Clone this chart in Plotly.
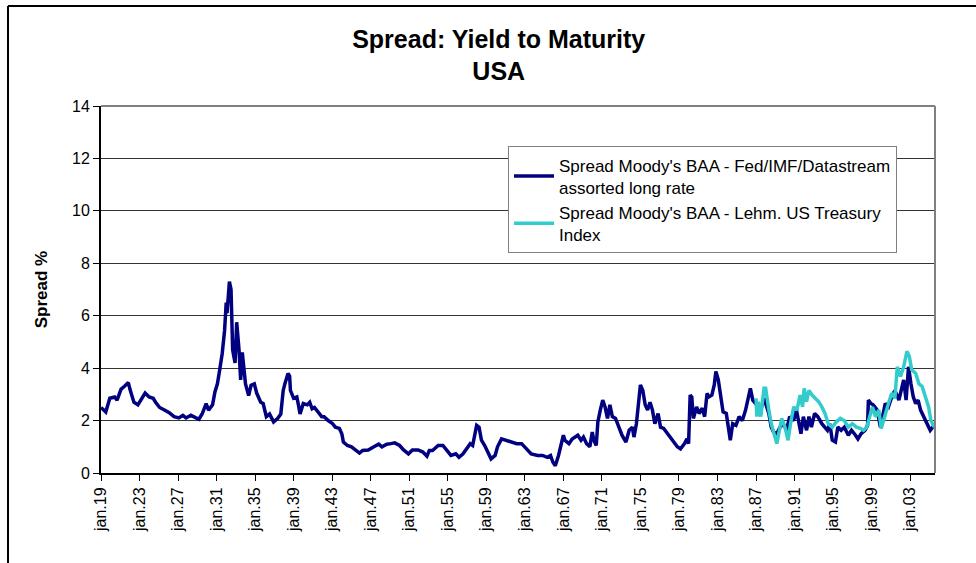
import pandas as pd
import plotly.graph_objects as go

# decimal years
fed_years = [
    1919.0, 1919.5, 1919.9, 1920.4, 1920.7, 1921.1, 1921.4, 1921.8, 1922.0, 1922.4,
    1922.8, 1923.2, 1923.6, 1924.0, 1924.4, 1924.7, 1925.1, 1925.6, 1926.1, 1926.6,
    1927.1, 1927.5, 1927.8, 1928.3, 1928.7, 1929.2, 1929.5, 1929.9, 1930.2, 1930.6,
    1930.8, 1931.1, 1931.3, 1931.6, 1931.8, 1932.0, 1932.1, 1932.3, 1932.5, 1932.7,
    1932.9, 1933.1, 1933.3, 1933.5, 1933.7, 1934.0, 1934.3, 1934.6, 1934.9, 1935.2,
    1935.6, 1935.8, 1936.2, 1936.5, 1936.9, 1937.3, 1937.7, 1937.9, 1938.1, 1938.4,
    1938.6, 1938.7, 1939.0, 1939.3, 1939.5, 1939.7, 1940.0, 1940.4, 1940.65, 1940.9,
    1941.2, 1941.5, 1941.9, 1942.2, 1942.6, 1943.0, 1943.3, 1943.75, 1944.0, 1944.2,
    1944.6, 1945.0, 1945.4, 1945.8, 1946.2, 1946.75, 1947.3, 1947.8, 1948.2, 1948.65,
    1949.1, 1949.5, 1950.0, 1950.4, 1950.9, 1951.3, 1951.9, 1952.4, 1952.8, 1953.1,
    1953.4, 1954.0, 1954.5, 1954.9, 1955.35, 1955.8, 1956.2, 1956.6, 1956.9, 1957.3,
    1957.6, 1958.0, 1958.25, 1958.5, 1958.8, 1959.2, 1959.5, 1959.9, 1960.2, 1960.6,
    1961.1, 1961.6, 1962.2, 1962.7, 1963.2, 1963.7, 1964.3, 1964.8, 1965.3, 1965.7,
    1965.9, 1966.2, 1966.5, 1966.8, 1967.0, 1967.2, 1967.6, 1967.95, 1968.5, 1968.85,
    1969.1, 1969.4, 1969.75, 1970.0, 1970.2, 1970.4, 1970.6, 1970.8, 1971.1, 1971.35,
    1971.6, 1971.85, 1972.1, 1972.45, 1972.8, 1973.1, 1973.5, 1973.8, 1974.2, 1974.35,
    1974.6, 1974.8, 1975.0, 1975.25, 1975.5, 1975.75, 1976.0, 1976.25, 1976.5, 1976.85,
    1977.1, 1977.45, 1977.8, 1978.3, 1978.8, 1979.2, 1979.55, 1979.8, 1980.0, 1980.2,
    1980.35, 1980.5, 1980.8, 1981.1, 1981.45, 1981.7, 1981.9, 1982.1, 1982.4, 1982.65,
    1982.8, 1983.1, 1983.35, 1983.6, 1983.9, 1984.15, 1984.3, 1984.55, 1984.9, 1985.25,
    1985.6, 1985.9, 1986.2, 1986.45, 1986.7, 1987.0, 1987.25, 1987.5, 1987.8, 1988.0,
    1988.3, 1988.6, 1988.8, 1989.2, 1989.5, 1989.85, 1990.2, 1990.5, 1990.9, 1991.15,
    1991.4, 1991.7, 1991.9, 1992.25, 1992.5, 1992.75, 1993.1, 1993.45, 1993.8, 1994.05,
    1994.4, 1994.65, 1994.9, 1995.25, 1995.5, 1995.85, 1996.2, 1996.55, 1996.9, 1997.3,
    1997.6, 1997.95, 1998.3, 1998.55, 1998.7, 1998.95, 1999.2, 1999.55, 1999.9, 2000.4,
    2000.75, 2001.1, 2001.45, 2001.8, 2002.1, 2002.35, 2002.55, 2002.8, 2003.05, 2003.3,
    2003.55, 2003.85, 2004.1, 2004.4, 2004.75, 2005.1, 2005.35, 2005.55,
]
fed_spread = [
    2.5, 2.33, 2.85, 2.9, 2.78, 3.2, 3.3, 3.45, 3.2, 2.7,
    2.6, 2.8, 3.05, 2.9, 2.85, 2.7, 2.5, 2.4, 2.3, 2.15,
    2.1, 2.2, 2.1, 2.2, 2.15, 2.05, 2.25, 2.65, 2.4, 2.6,
    3.1, 3.4, 3.95, 4.55, 5.45, 6.5, 6.1, 7.3, 7.0, 4.7,
    4.2, 5.75, 4.7, 3.55, 4.6, 3.4, 2.95, 3.35, 3.4, 3.05,
    2.7, 2.65, 2.15, 2.25, 1.95, 2.08, 2.25, 3.15, 3.4, 3.8,
    3.7, 3.15, 2.85, 2.9, 2.6, 2.25, 2.65, 2.6, 2.7, 2.45,
    2.5, 2.33, 2.15, 2.15, 2.0, 1.9, 1.75, 1.7, 1.5, 1.18,
    1.05, 1.0, 0.86, 0.76, 0.86, 0.88, 1.0, 1.1, 1.0, 1.1,
    1.12, 1.15, 1.05, 0.88, 0.73, 0.88, 0.88, 0.8, 0.64, 0.86,
    0.86, 1.05, 1.05, 0.86, 0.67, 0.73, 0.6, 0.73, 0.92, 1.12,
    1.05, 1.82, 1.75, 1.25, 1.05, 0.8, 0.54, 0.67, 1.0, 1.3,
    1.25, 1.18, 1.12, 1.12, 0.92, 0.73, 0.67, 0.67, 0.6, 0.67,
    0.41, 0.28, 0.67, 1.12, 1.44, 1.25, 1.12, 1.3, 1.44, 1.25,
    1.37, 1.12, 1.0, 1.56, 1.25, 1.05, 1.95, 2.4, 2.78, 2.52,
    2.08, 2.6, 2.15, 2.08, 1.63, 1.44, 1.18, 1.63, 1.75, 1.37,
    1.88, 2.65, 3.36, 3.15, 2.6, 2.4, 2.7, 2.4, 1.88, 2.27,
    1.75, 1.7, 1.5, 1.25, 1.0, 0.92, 1.12, 1.3, 1.12, 2.97,
    2.9, 2.08, 2.52, 2.27, 2.47, 2.15, 3.04, 2.9, 2.97, 3.36,
    3.87, 3.55, 2.97, 2.33, 2.27, 1.7, 1.25, 1.88, 1.82, 2.15,
    2.0, 2.4, 2.9, 3.23, 2.78, 2.6, 2.52, 2.4, 2.85, 2.65,
    2.27, 1.75, 1.56, 1.5, 1.75, 1.88, 1.63, 2.15, 2.0, 2.47,
    1.88, 1.5, 2.15, 1.63, 2.15, 1.75, 2.27, 2.15, 1.88, 1.75,
    1.63, 1.88, 1.25, 1.18, 1.75, 1.63, 1.75, 1.44, 1.63, 1.44,
    1.3, 1.5, 1.63, 1.82, 2.78, 2.65, 2.6, 2.4, 1.75, 2.65,
    2.52, 2.9, 3.15, 2.78, 3.15, 3.55, 2.78, 4.05, 3.4, 2.9,
    2.65, 2.78, 2.4, 2.15, 1.95, 1.63, 1.75, 1.82,
]

lehman_years = [
    1987.0, 1987.1, 1987.25, 1987.5, 1987.8, 1988.0, 1988.3, 1988.6, 1989.2, 1989.45,
    1989.7, 1990.0, 1990.3, 1990.55, 1990.9, 1991.25, 1991.6, 1991.8, 1992.0, 1992.25,
    1992.5, 1992.8, 1993.15, 1993.5, 1993.85, 1994.2, 1994.5, 1994.9, 1995.3, 1995.75,
    1996.2, 1996.6, 1997.0, 1997.4, 1997.8, 1998.15, 1998.5, 1998.8, 1999.1, 1999.4,
    1999.75, 2000.0, 2000.4, 2000.75, 2001.1, 2001.4, 2001.65, 2002.0, 2002.35, 2002.7,
    2002.95, 2003.2, 2003.55, 2003.9, 2004.25, 2004.6, 2004.95, 2005.2, 2005.4, 2005.55,
]
lehman_spread = [
    2.85, 2.15, 2.72, 2.15, 3.23, 3.23, 2.4, 1.88, 1.12, 1.63,
    2.08, 1.75, 1.25, 1.88, 2.52, 2.4, 2.97, 2.52, 3.23, 2.72,
    3.15, 2.97, 2.85, 2.72, 2.52, 2.27, 1.88, 1.75, 1.95, 2.08,
    2.0, 1.75, 1.88, 1.75, 1.7, 1.63, 1.75, 2.15, 2.52, 2.15,
    2.4, 1.7, 2.27, 2.65, 3.04, 2.85, 4.05, 3.68, 4.05, 4.64,
    4.45, 3.94, 3.8, 3.4, 3.3, 2.9, 2.52, 2.0, 1.82, 1.88,
]

tick_years = list(range(1919, 2004, 4))
tick_text = [f"jan.{y % 100:02d}" for y in tick_years]


def to_dates(years):
    out = []
    for y in years:
        yi = int(y)
        month = int(round((y - yi) * 12)) + 1
        if month > 12:
            yi, month = yi + 1, 1
        out.append(pd.Timestamp(year=yi, month=month, day=1))
    return out


fig = go.Figure()
fig.add_trace(
    go.Scatter(
        x=to_dates(fed_years),
        y=fed_spread,
        mode="lines",
        name="Spread Moody's BAA - Fed/IMF/Datastream<br>assorted long rate",
        line={"color": "#000080", "width": 3.5},
    )
)
fig.add_trace(
    go.Scatter(
        x=to_dates(lehman_years),
        y=lehman_spread,
        mode="lines",
        name="Spread Moody's BAA - Lehm. US Treasury<br>Index",
        line={"color": "#33CCCC", "width": 3.5},
    )
)

# outer chart border (top and left only are visible in the picture)
fig.add_shape(type="line", xref="paper", yref="paper", x0=-0.1115, x1=1.05, y0=1.2725, y1=1.2725,
              line={"color": "black", "width": 2})
fig.add_shape(type="line", xref="paper", yref="paper", x0=-0.1115, x1=-0.1115, y0=1.2725, y1=-0.3,
              line={"color": "black", "width": 2})
# plot-area frame, grey on top and right
fig.add_shape(type="line", xref="paper", yref="paper", x0=0, x1=1, y0=1, y1=1,
              line={"color": "#808080", "width": 2})
fig.add_shape(type="line", xref="paper", yref="paper", x0=1, x1=1, y0=0, y1=1,
              line={"color": "#808080", "width": 2})

fig.update_layout(
    width=976,
    height=563,
    margin={"l": 101, "r": 41, "t": 106, "b": 90},
    paper_bgcolor="white",
    plot_bgcolor="white",
    font={"family": "Liberation Sans, Arial, sans-serif", "color": "black"},
    title={
        "text": "<b>Spread: Yield to Maturity<br>USA</b>",
        "x": 0.511,
        "xanchor": "center",
        "y": 0.915,
        "yanchor": "top",
        "font": {"size": 25},
    },
    showlegend=True,
    legend={
        "x": 0.488,
        "y": 0.89,
        "xanchor": "left",
        "yanchor": "top",
        "bgcolor": "white",
        "bordercolor": "#808080",
        "borderwidth": 1,
        "font": {"size": 17},
        "itemwidth": 40,
        "tracegroupgap": 4,
    },
    xaxis={
        "type": "date",
        "range": ["1919-01-01", "2005-08-01"],
        "tickvals": [pd.Timestamp(year=y, month=1, day=1) for y in tick_years],
        "ticktext": tick_text,
        "tickangle": -90,
        "ticks": "outside",
        "ticklen": 6,
        "tickcolor": "black",
        "showgrid": False,
        "showline": True,
        "linecolor": "black",
        "linewidth": 2,
        "tickfont": {"size": 16},
        "zeroline": False,
    },
    yaxis={
        "range": [0, 14],
        "tickvals": [0, 2, 4, 6, 8, 10, 12, 14],
        "ticks": "outside",
        "ticklen": 6,
        "tickcolor": "black",
        "showgrid": True,
        "gridcolor": "#333333",
        "gridwidth": 1,
        "showline": True,
        "linecolor": "black",
        "linewidth": 2,
        "tickfont": {"size": 16},
        "zeroline": False,
        "title": {"text": "<b>Spread %</b>", "font": {"size": 17}, "standoff": 20},
    },
)

# the page body has a default 8px margin; drop it so the figure sits at the window corner
fig.write_html(
    "out.html",
    config={"displayModeBar": False},
    post_script="document.body.style.margin='0';",
)
